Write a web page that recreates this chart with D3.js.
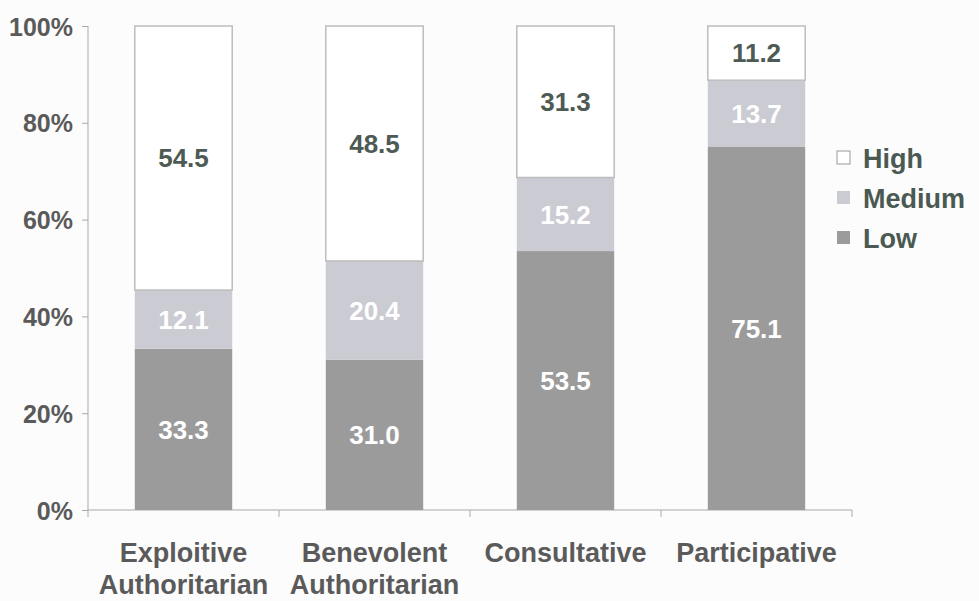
<!DOCTYPE html>
<meta charset="utf-8">
<style>
    body { margin: 0; background: #fcfcfc; }
    text { font-family: "Liberation Sans", Arial, sans-serif; font-weight: bold; }
    .axis text { fill: #5a5a5a; font-size: 25px; }
    .axis text.cat { font-size: 27px; }
    .axis path, .axis line { stroke: #aaa; }
</style>
<svg width="979" height="601"></svg>
<script src="https://d3js.org/d3.v7.min.js"></script>
<script>

    var categories = [["Exploitive", "Authoritarian"], ["Benevolent", "Authoritarian"], ["Consultative"], ["Participative"]];
    var low = [33.3, 31.0, 53.5, 75.1];
    var medium = [12.1, 20.4, 15.2, 13.7];
    var high = [54.5, 48.5, 31.3, 11.2];
    var yTicks = [0, 0.2, 0.4, 0.6, 0.8, 1];
    var seriesNames = ["Low", "Medium", "High"];

    var svg = d3.select("svg"),
        margin = {left: 88, top: 26, right: 127, bottom: 91},
        width = +svg.attr("width") - margin.left - margin.right,
        height = +svg.attr("height") - margin.top - margin.bottom,
        g = svg.append("g").attr("transform", "translate(" + margin.left + "," + margin.top + ")");

    var rows = categories.map(function(c, i) {
        return {name: c.join(" "), Low: low[i], Medium: medium[i], High: high[i]};
    });

    var x = d3.scaleBand()
        .domain(rows.map(function(d) { return d.name; }))
        .range([0, width])
        .paddingInner(0.49)
        .paddingOuter(0.245);

    var y = d3.scaleLinear().domain([0, 1]).range([height, 0]);

    var fill = {Low: "#9b9b9b", Medium: "#cbcbd3", High: "#ffffff"};
    var textFill = {Low: "#ffffff", Medium: "#ffffff", High: "#4e5a54"};

    var stack = d3.stack().keys(seriesNames).offset(d3.stackOffsetExpand);
    var layers = stack(rows);

    // y axis
    g.append("g")
        .attr("class", "axis")
        .call(d3.axisLeft(y).tickValues(yTicks).tickFormat(d3.format(".0%")).tickSize(6).tickPadding(9))
        .call(function(a) { a.select(".domain").attr("d", "M0," + height + "V0"); })
        .selectAll("text").attr("dy", "0.36em");

    // x axis with ticks between categories
    var xa = g.append("g")
        .attr("class", "axis")
        .attr("transform", "translate(0," + height + ")");
    xa.append("path").attr("d", "M0,0H" + width).attr("stroke", "#aaa");
    xa.selectAll("line")
        .data(d3.range(rows.length + 1))
        .enter().append("line")
        .attr("x1", function(i) { return i * x.step(); })
        .attr("x2", function(i) { return i * x.step(); })
        .attr("y1", 0).attr("y2", 7);
    var lbl = xa.selectAll("text.cat")
        .data(categories)
        .enter().append("text")
        .attr("class", "cat")
        .attr("text-anchor", "middle")
        .attr("x", function(d, i) { return x(rows[i].name) + x.bandwidth() / 2; })
        .attr("y", 52);
    lbl.selectAll("tspan")
        .data(function(d) { return d; })
        .enter().append("tspan")
        .attr("x", function() { return d3.select(this.parentNode).attr("x"); })
        .attr("dy", function(d, i) { return i ? 32 : 0; })
        .text(function(d) { return d; });

    // bars
    var layer = g.selectAll(".layer")
        .data(layers)
        .enter().append("g")
        .attr("class", "layer");

    layer.selectAll("rect")
        .data(function(d) { return d.map(function(p) { p.key = d.key; return p; }); })
        .enter().append("rect")
        .attr("x", function(d) { return x(d.data.name); })
        .attr("width", x.bandwidth())
        .attr("y", function(d) { return y(d[1]); })
        .attr("height", function(d) { return y(d[0]) - y(d[1]); })
        .attr("fill", function(d) { return fill[d.key]; })
        .attr("stroke", function(d) { return d.key === "High" ? "#bdbdbd" : "none"; })
        .attr("stroke-width", 1.5);

    layer.selectAll("text")
        .data(function(d) { return d; })
        .enter().append("text")
        .attr("text-anchor", "middle")
        .attr("x", function(d) { return x(d.data.name) + x.bandwidth() / 2; })
        .attr("y", function(d) { return y((d[0] + d[1]) / 2); })
        .attr("dy", "0.36em")
        .style("font-size", "26px")
        .style("fill", function(d) { return textFill[d.key]; })
        .text(function(d) { return d3.format(".1f")(d.data[d.key]); });

    // legend
    var legend = svg.append("g")
        .attr("transform", "translate(837,158)")
        .selectAll("g")
        .data(seriesNames.slice().reverse())
        .enter().append("g")
        .attr("transform", function(d, i) { return "translate(0," + i * 40 + ")"; });
    legend.append("rect")
        .attr("x", 0).attr("y", -7)
        .attr("width", 13).attr("height", 13)
        .attr("fill", function(d) { return fill[d]; })
        .attr("stroke", function(d) { return d === "High" ? "#999" : "none"; });
    legend.append("text")
        .attr("x", 26)
        .attr("dy", "0.36em")
        .style("font-size", "27px")
        .style("fill", "#4a5a52")
        .text(function(d) { return d; });
</script>
